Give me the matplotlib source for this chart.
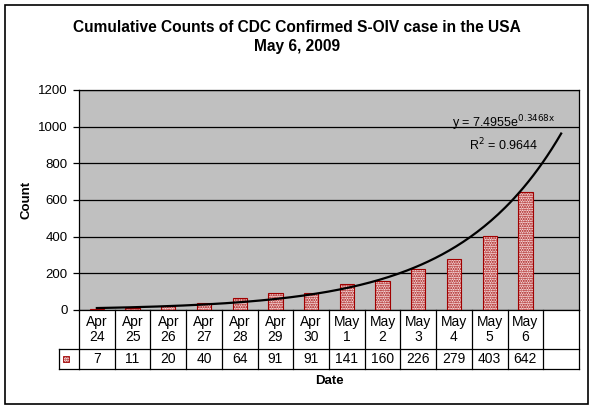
import numpy as np
import matplotlib
matplotlib.use("Agg")
import matplotlib.pyplot as plt
from matplotlib.patches import Rectangle
from matplotlib.transforms import blended_transform_factory

plt.rcParams['font.family'] = ['Liberation Sans', 'DejaVu Sans']
plt.rcParams['hatch.linewidth'] = 1.0

# Data
months = ["Apr"] * 7 + ["May"] * 6
days = ["24", "25", "26", "27", "28", "29", "30", "1", "2", "3", "4", "5", "6"]
counts = [7, 11, 20, 40, 64, 91, 91, 141, 160, 226, 279, 403, 642]

# Excel exponential trendline, as printed on the chart (x = 1, 2, ...), one period forecast
trend_a = 7.4955
trend_b = 0.3468
trend_r2 = 0.9644
n_slots = len(counts) + 1

fig = plt.figure(figsize=(5.95, 4.09), dpi=100)
W, H = 595, 409

def fx(px):
    return px / W

def fy(py):
    return 1 - py / H

# outer chart border
fig.patches.append(Rectangle((fx(5), fy(404)), fx(583), 399 / H, transform=fig.transFigure,
                             fill=False, edgecolor='black', linewidth=1.2))

ax = fig.add_axes([fx(79), fy(310), fx(500), 220 / H])
ax.set_facecolor('#c0c0c0')

bar_face = '#f7dede'
bar_edge = '#a00000'
x = np.arange(1, len(counts) + 1)
ax.bar(x, counts, width=0.4, color=bar_face, edgecolor=bar_edge, hatch='.......',
       linewidth=0.8, zorder=3)

xt = np.linspace(1, n_slots, 200)
ax.plot(xt, trend_a * np.exp(trend_b * xt), color='black', linewidth=1.6, zorder=4)

ax.set_xlim(0.5, n_slots + 0.5)
ax.set_ylim(0, 1200)
ax.set_yticks(np.arange(0, 1201, 200))
ax.yaxis.grid(True, color='black', linewidth=0.9)
ax.set_axisbelow(True)
ax.set_xticks([])
ax.tick_params(axis='y', length=4, width=0.9, labelsize=9.5, pad=4)
for s in ax.spines.values():
    s.set_linewidth(0.9)

ax.text(12.39, 1020, r"y = %.4fe$^{\mathrm{%.4fx}}$" % (trend_a, trend_b), fontsize=9,
        ha='center', va='center', zorder=5)
ax.text(12.39, 900, "R$^2$ = %.4f" % trend_r2, fontsize=9, ha='center', va='center', zorder=5)

# data table under the axis
tr = blended_transform_factory(ax.transData, fig.transFigure)
y_top, y_mid, y_bot = fy(310), fy(349), fy(369)
lw = 0.9
left = 0.5
right = n_slots + 0.5
ax.plot([left, right], [y_mid, y_mid], transform=tr, color='black', lw=lw, clip_on=False)
ax.plot([left, right], [y_bot, y_bot], transform=tr, color='black', lw=lw, clip_on=False)
for k in range(n_slots + 1):
    xb = left + k
    ax.plot([xb, xb], [y_top, y_bot], transform=tr, color='black', lw=lw, clip_on=False)

for i, c in enumerate(counts):
    ax.text(x[i], (y_top + y_mid) / 2, months[i] + "\n" + days[i], transform=tr,
            ha='center', va='center', fontsize=10, linespacing=1.15)
    ax.text(x[i], (y_mid + y_bot) / 2, str(c), transform=tr,
            ha='center', va='center', fontsize=10)

# legend key cell
fig.lines.append(plt.Line2D([fx(59), fx(79)], [y_mid, y_mid], transform=fig.transFigure,
                            color='black', lw=lw))
fig.lines.append(plt.Line2D([fx(59), fx(79)], [y_bot, y_bot], transform=fig.transFigure,
                            color='black', lw=lw))
fig.lines.append(plt.Line2D([fx(59), fx(59)], [y_mid, y_bot], transform=fig.transFigure,
                            color='black', lw=lw))
fig.patches.append(Rectangle((fx(63), fy(362)), fx(6), 6 / H, transform=fig.transFigure,
                             facecolor=bar_face, edgecolor=bar_edge, hatch='.......', lw=0.6))

fig.text(fx(297), fy(28), "Cumulative Counts of CDC Confirmed S-OIV case in the USA",
         ha='center', va='center', fontsize=11.2, fontweight='bold')
fig.text(fx(297), fy(47), "May 6, 2009", ha='center', va='center',
         fontsize=11.2, fontweight='bold')
fig.text(fx(329), fy(381), "Date", ha='center', va='center', fontsize=9.5, fontweight='bold')
fig.text(fx(26), fy(200), "Count", ha='center', va='center', fontsize=9.5,
         fontweight='bold', rotation=90)

fig.savefig("out.png", dpi=100)
